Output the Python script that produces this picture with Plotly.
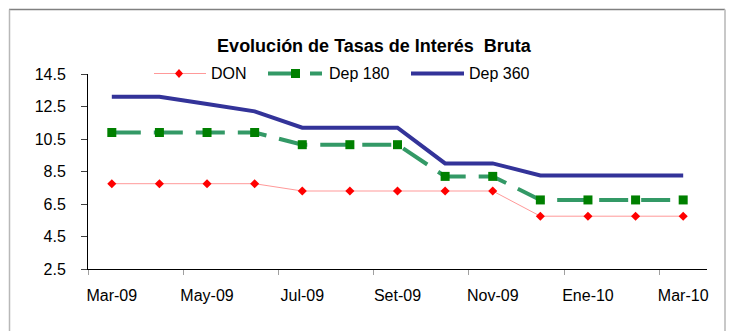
import plotly.graph_objects as go

# Monthly gross interest rates (%), Mar-09 to Mar-10
meses = ["Mar-09", "Abr-09", "May-09", "Jun-09", "Jul-09", "Ago-09", "Set-09",
         "Oct-09", "Nov-09", "Dic-09", "Ene-10", "Feb-10", "Mar-10"]
don = [7.75, 7.75, 7.75, 7.75, 7.3, 7.3, 7.3, 7.3, 7.3, 5.75, 5.75, 5.75, 5.75]
dep180 = [10.9, 10.9, 10.9, 10.9, 10.15, 10.15, 10.15, 8.2, 8.2, 6.75, 6.75, 6.75, 6.75]
dep360 = [13.1, 13.1, 12.65, 12.2, 11.2, 11.2, 11.2, 9.0, 9.0, 8.25, 8.25, 8.25, 8.25]

y_ticks = [2.5, 4.5, 6.5, 8.5, 10.5, 12.5, 14.5]

W, H = 729, 331
L, R, T, B = 88, 707, 74, 269
FONT = "Liberation Sans, Arial, sans-serif"

C_DON_LINE, C_DON_MK = "#ff9999", "#ff0000"
C_180_LINE, C_180_MK = "#339966", "#008000"
C_360 = "#333399"
DASH_180 = "29px,13px"


def px(x):
    return (x - L) / (R - L)


def py(y):
    return (B - y) / (B - T)


fig = go.Figure()
fig.add_trace(go.Scatter(
    x=meses, y=don, name="DON", mode="lines+markers",
    line=dict(color=C_DON_LINE, width=1),
    marker=dict(symbol="diamond", size=7, color=C_DON_MK, line=dict(width=0)),
))
fig.add_trace(go.Scatter(
    x=meses, y=dep180, name="Dep 180", mode="lines+markers",
    line=dict(color=C_180_LINE, width=4, dash=DASH_180),
    marker=dict(symbol="square", size=9, color=C_180_MK, line=dict(width=0)),
))
fig.add_trace(go.Scatter(
    x=meses, y=dep360, name="Dep 360", mode="lines",
    line=dict(color=C_360, width=4),
))

shapes = []
# chart frame
shapes.append(dict(type="line", xref="paper", yref="paper",
                   x0=px(9), x1=px(725), y0=py(9.5), y1=py(9.5),
                   line=dict(color="#808080", width=1.5)))
shapes.append(dict(type="line", xref="paper", yref="paper",
                   x0=px(9.5), x1=px(9.5), y0=py(9.5), y1=py(331),
                   line=dict(color="#b8b8b8", width=1.5)))
shapes.append(dict(type="line", xref="paper", yref="paper",
                   x0=px(725), x1=px(725), y0=py(9.5), y1=py(331),
                   line=dict(color="#c8c8c8", width=2)))

# legend keys
ly = 73.5
shapes.append(dict(type="line", xref="paper", yref="paper",
                   x0=px(154), x1=px(206), y0=py(ly), y1=py(ly),
                   line=dict(color=C_DON_LINE, width=1)))
cx, hw, hh = 179, 4, 4.5
shapes.append(dict(type="path", xref="paper", yref="paper",
                   path=(f"M {px(cx - hw)},{py(ly)} L {px(cx)},{py(ly - hh)} "
                         f"L {px(cx + hw)},{py(ly)} L {px(cx)},{py(ly + hh)} Z"),
                   fillcolor=C_DON_MK, line=dict(width=0)))
shapes.append(dict(type="line", xref="paper", yref="paper",
                   x0=px(268), x1=px(322), y0=py(ly), y1=py(ly),
                   line=dict(color=C_180_LINE, width=4, dash=DASH_180)))
shapes.append(dict(type="rect", xref="paper", yref="paper",
                   x0=px(291), x1=px(300), y0=py(ly - 4.5), y1=py(ly + 4.5),
                   fillcolor=C_180_MK, line=dict(width=0)))
shapes.append(dict(type="line", xref="paper", yref="paper",
                   x0=px(411), x1=px(464), y0=py(ly), y1=py(ly),
                   line=dict(color=C_360, width=4)))

annotations = []
for name, xl in [("DON", 209), ("Dep 180", 327), ("Dep 360", 467)]:
    annotations.append(dict(text=name, xref="paper", yref="paper",
                            x=px(xl), y=py(ly), xanchor="left", yanchor="middle",
                            showarrow=False, font=dict(family=FONT, size=16, color="black")))

fig.update_layout(
    width=W, height=H,
    margin=dict(l=L, r=W - R, t=T, b=H - B, pad=0, autoexpand=False),
    paper_bgcolor="white", plot_bgcolor="white",
    showlegend=False,
    font=dict(family=FONT, size=16, color="black"),
    title=dict(text="<b>Evolución de Tasas de Interés\u00a0 Bruta</b>",
               x=374 / W, xanchor="center", xref="container",
               y=1 - 46 / H, yanchor="middle", yref="container",
               font=dict(family=FONT, size=18, color="black")),
    shapes=shapes, annotations=annotations,
)
fig.update_xaxes(
    type="category", range=[-0.5, 12.5],
    tickmode="linear", tick0=0, dtick=2, tickson="boundaries",
    ticks="outside", ticklen=5, tickcolor="#a0a0a0", tickwidth=1,
    showline=True, linecolor="black", linewidth=1, tickangle=0, automargin=False,
    showgrid=False, zeroline=False, ticklabelstandoff=12,
    tickfont=dict(family=FONT, size=16, color="black"),
)
fig.update_yaxes(
    range=[2.5, 14.5], tickmode="array", tickvals=y_ticks,
    ticktext=[f"{v:.1f}" for v in y_ticks], automargin=False,
    ticks="outside", ticklen=6, tickcolor="#404040", tickwidth=1,
    showline=True, linecolor="black", linewidth=1,
    showgrid=False, zeroline=False, ticklabelstandoff=12,
    tickfont=dict(family=FONT, size=16, color="black"),
)

fig.write_html("out.html")
